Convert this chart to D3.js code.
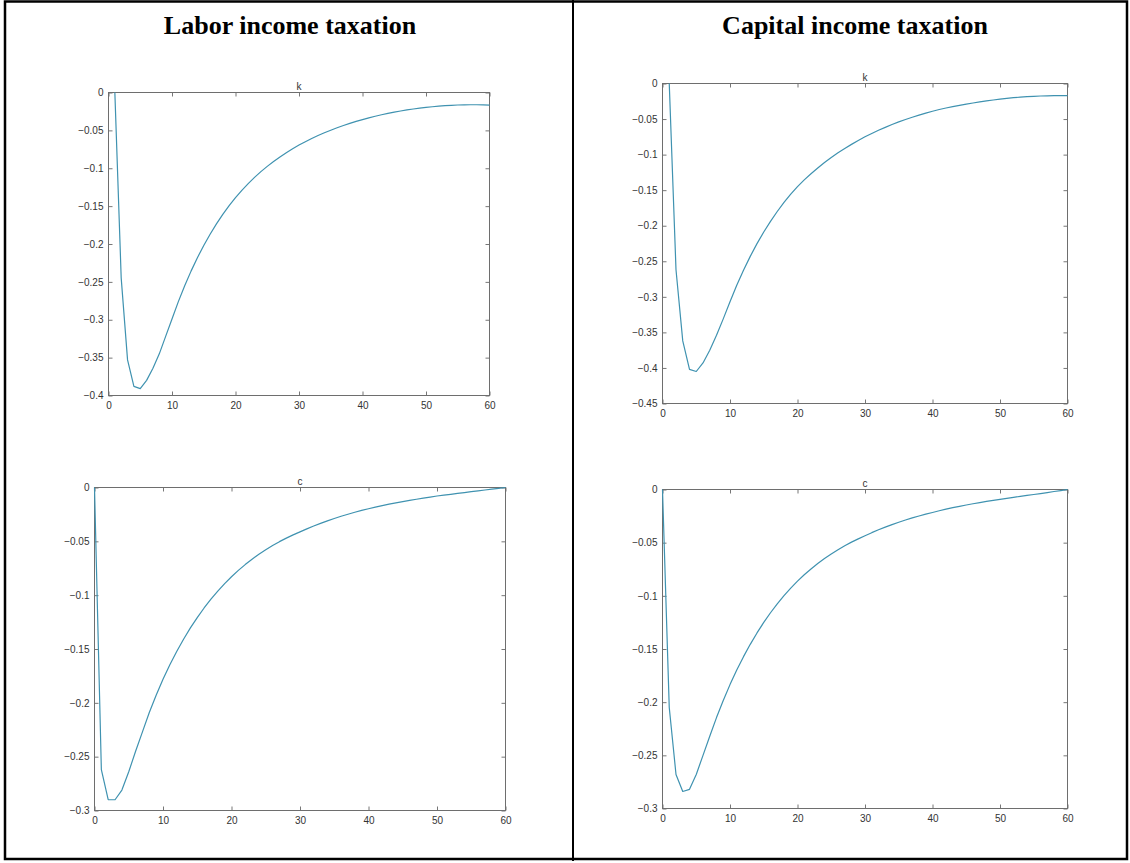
<!DOCTYPE html>
<html>
<head>
<meta charset="utf-8">
<script src="https://cdn.jsdelivr.net/npm/d3@7/dist/d3.min.js"></script>
<style>
  body { margin: 0; background: #fff; }
  .irf-axis text { font-family: "Liberation Sans", Arial, sans-serif; font-size: 10px; fill: #333; }
  .irf-axis line { stroke: #777; }
  .irf-axis path { display: none; }
</style>
</head>
<body>
<svg id="chart" width="1130" height="863"></svg>
<script>
// impulse responses
// k series start at period 1, c series at period 0
const kStart = 1;
const cStart = 0;

const kLabor = [
  0, -0.245, -0.353, -0.388, -0.391, -0.380, -0.364, -0.345, -0.322, -0.299,
  -0.2761, -0.2551, -0.2358, -0.2181, -0.2019, -0.1871, -0.1734, -0.1609, -0.1494, -0.1389,
  -0.1292, -0.1203, -0.1121, -0.1045, -0.0975, -0.0910, -0.0850, -0.0794, -0.0742, -0.0694,
  -0.0649, -0.0607, -0.0568, -0.0532, -0.0498, -0.0466, -0.0436, -0.0408, -0.0382, -0.0358,
  -0.0335, -0.0314, -0.0294, -0.0276, -0.0259, -0.0244, -0.0230, -0.0218, -0.0207, -0.0197,
  -0.0188, -0.0180, -0.0174, -0.0169, -0.0165, -0.0163, -0.0162, -0.0162, -0.0164, -0.0167
];

const kCapital = [
  0, -0.262, -0.362, -0.402, -0.405, -0.393, -0.375, -0.354, -0.331, -0.307,
  -0.2838, -0.2626, -0.2431, -0.2252, -0.2088, -0.1938, -0.1800, -0.1673, -0.1556, -0.1450,
  -0.1356, -0.1270, -0.1189, -0.1112, -0.1040, -0.0974, -0.0913, -0.0856, -0.0801, -0.0750,
  -0.0702, -0.0658, -0.0617, -0.0577, -0.0540, -0.0506, -0.0474, -0.0444, -0.0416, -0.0390,
  -0.0366, -0.0345, -0.0325, -0.0307, -0.0290, -0.0274, -0.0259, -0.0245, -0.0232, -0.0220,
  -0.0209, -0.0200, -0.0192, -0.0185, -0.0180, -0.0176, -0.0173, -0.0171, -0.0170, -0.0170
];

const cLabor = [
  0, -0.262, -0.290, -0.290, -0.281, -0.264, -0.245, -0.227, -0.209, -0.193,
  -0.1780, -0.1646, -0.1523, -0.1409, -0.1304, -0.1208, -0.1119, -0.1037, -0.0962, -0.0893,
  -0.0829, -0.0770, -0.0716, -0.0666, -0.0620, -0.0578, -0.0539, -0.0503, -0.0470, -0.0440,
  -0.0412, -0.0384, -0.0358, -0.0333, -0.0310, -0.0288, -0.0267, -0.0248, -0.0230, -0.0213,
  -0.0197, -0.0182, -0.0168, -0.0155, -0.0143, -0.0131, -0.0120, -0.0109, -0.0099, -0.0089,
  -0.0079, -0.0071, -0.0063, -0.0055, -0.0047, -0.0039, -0.0031, -0.0023, -0.0015, -0.0008,
  0
];

const cCapital = [
  0, -0.205, -0.268, -0.284, -0.282, -0.268, -0.250, -0.232, -0.2145, -0.1985,
  -0.1835, -0.1698, -0.1572, -0.1456, -0.1349, -0.1250, -0.1159, -0.1075, -0.0998, -0.0927,
  -0.0862, -0.0802, -0.0747, -0.0696, -0.0649, -0.0606, -0.0566, -0.0529, -0.0495, -0.0464,
  -0.0435, -0.0406, -0.0379, -0.0354, -0.0330, -0.0308, -0.0287, -0.0267, -0.0249, -0.0232,
  -0.0216, -0.0200, -0.0185, -0.0171, -0.0158, -0.0146, -0.0134, -0.0123, -0.0112, -0.0102,
  -0.0092, -0.0083, -0.0074, -0.0065, -0.0056, -0.0047, -0.0038, -0.0029, -0.0019, -0.0010,
  0
];

const xTicks = [0, 10, 20, 30, 40, 50, 60];
const kLaborTicks = [0, -0.05, -0.1, -0.15, -0.2, -0.25, -0.3, -0.35, -0.4];
const kCapitalTicks = [0, -0.05, -0.1, -0.15, -0.2, -0.25, -0.3, -0.35, -0.4, -0.45];
const cTicks = [0, -0.05, -0.1, -0.15, -0.2, -0.25, -0.3];

const columnTitles = ['Labor income taxation', 'Capital income taxation'];
const lineColor = '#3f92b0';

const svg = d3.select('#chart');

// table frame around the four panels
const frame = svg.append('g').attr('fill', 'none').attr('stroke', '#000');
frame.append('rect')
  .attr('x', 5).attr('y', 1.5)
  .attr('width', 1122).attr('height', 857.5)
  .attr('stroke-width', 2.5);
frame.append('line')
  .attr('x1', 573).attr('x2', 573)
  .attr('y1', 0).attr('y2', 861)
  .attr('stroke-width', 2);

svg.selectAll('text.column-title')
  .data(columnTitles)
  .enter()
  .append('text')
  .attr('class', 'column-title')
  .attr('x', (d, i) => i === 0 ? 290 : 855)
  .attr('y', 34)
  .attr('text-anchor', 'middle')
  .style('font-family', '"Liberation Serif", "Times New Roman", serif')
  .style('font-weight', 'bold')
  .style('font-size', '26px')
  .text(d => d);

const panels = [
  {name: 'k', values: kLabor, start: kStart, yTicks: kLaborTicks,
    box: {left: 108.5, right: 489.5, top: 92.5, bottom: 395.5}},
  {name: 'k', values: kCapital, start: kStart, yTicks: kCapitalTicks,
    box: {left: 662.5, right: 1067.5, top: 83.5, bottom: 403.5}},
  {name: 'c', values: cLabor, start: cStart, yTicks: cTicks,
    box: {left: 94.5, right: 505.5, top: 487.5, bottom: 810.5}},
  {name: 'c', values: cCapital, start: cStart, yTicks: cTicks,
    box: {left: 662.5, right: 1067.5, top: 489.5, bottom: 808.5}}
];

const tickLabel = d => (d < 0 ? '\u2212' : '') + Math.abs(d);

const drawPanel = panel => {
  const b = panel.box;
  const x = d3.scaleLinear().domain([0, 60]).range([b.left, b.right]);
  const y = d3.scaleLinear()
    .domain([panel.yTicks[panel.yTicks.length - 1], 0])
    .range([b.bottom, b.top]);

  const g = svg.append('g');

  g.append('g')
    .attr('class', 'irf-axis')
    .attr('transform', 'translate(0,' + b.bottom + ')')
    .call(d3.axisBottom(x).tickValues(xTicks).tickSize(-4).tickPadding(6.5).tickFormat(d3.format('d')));

  g.append('g')
    .attr('class', 'irf-axis')
    .attr('transform', 'translate(0,' + b.top + ')')
    .call(d3.axisTop(x).tickValues(xTicks).tickSize(-4).tickFormat(''));

  g.append('g')
    .attr('class', 'irf-axis')
    .attr('transform', 'translate(' + b.left + ',0)')
    .call(d3.axisLeft(y).tickValues(panel.yTicks).tickSize(-4).tickPadding(5).tickFormat(tickLabel));

  g.append('g')
    .attr('class', 'irf-axis')
    .attr('transform', 'translate(' + b.right + ',0)')
    .call(d3.axisRight(y).tickValues(panel.yTicks).tickSize(-4).tickFormat(''));

  // plot box
  g.append('rect')
    .attr('x', b.left).attr('y', b.top)
    .attr('width', b.right - b.left).attr('height', b.bottom - b.top)
    .attr('fill', 'none')
    .attr('stroke', '#6e6e6e')
    .attr('stroke-width', 1);

  g.append('text')
    .attr('x', (b.left + b.right) / 2)
    .attr('y', b.top - 3)
    .attr('text-anchor', 'middle')
    .style('font-family', '"Liberation Sans", Arial, sans-serif')
    .style('font-size', '10px')
    .style('fill', '#333')
    .text(panel.name);

  const line = d3.line()
    .x((d, i) => x(panel.start + i))
    .y(d => y(d));

  g.append('path')
    .datum(panel.values)
    .attr('d', line)
    .attr('fill', 'none')
    .attr('stroke', lineColor)
    .attr('stroke-width', 1.2)
    .attr('stroke-linejoin', 'round');
};

panels.forEach(drawPanel);
</script>
</body>
</html>
